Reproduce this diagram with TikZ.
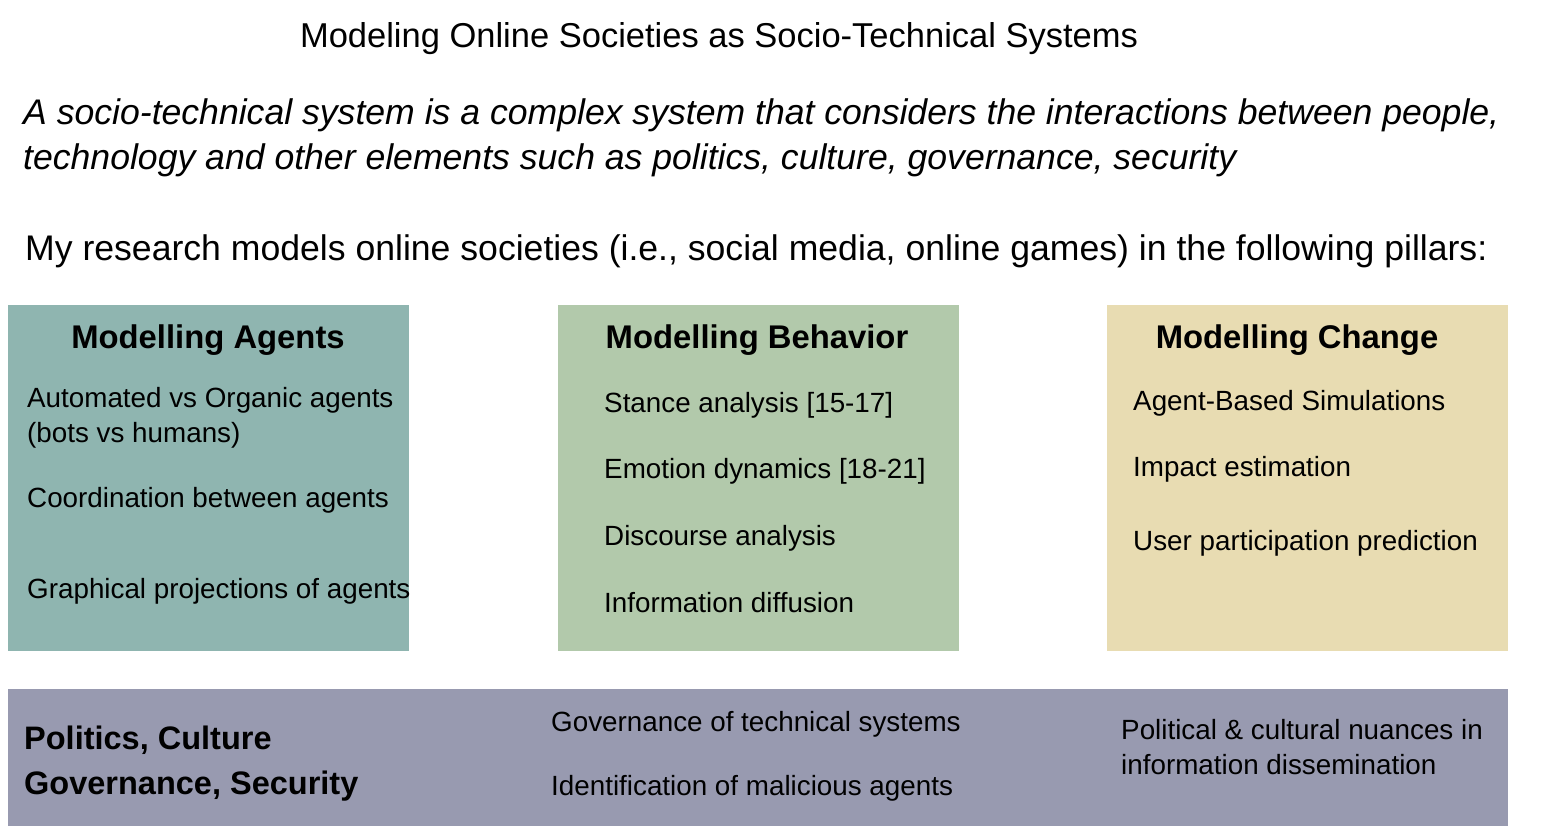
\documentclass[tikz,border=0pt]{standalone}
\usepackage{fontspec}
\setmainfont{Liberation Sans}
\usepackage{xcolor}
\usetikzlibrary{positioning}
\definecolor{agentfill}{RGB}{143,181,176}
\definecolor{behavfill}{RGB}{178,201,171}
\definecolor{changefill}{RGB}{232,220,178}
\definecolor{basefill}{RGB}{152,154,176}
\tikzset{
  pillar/.style={anchor=north west, inner sep=0pt, minimum width=401pt, minimum height=346pt},
  head/.style={anchor=base, inner sep=0pt, font=\fontsize{32.8}{38}\selectfont\bfseries},
  item/.style={anchor=base west, inner sep=0pt, font=\fontsize{27.8}{32}\selectfont},
  intro/.style={anchor=base west, inner sep=0pt, font=\fontsize{35.6}{40}\selectfont},
}

\begin{document}
\begin{tikzpicture}[x=1pt,y=-1pt]
\useasboundingbox (0,0) rectangle (1562,826);
% title and intro text
\node[anchor=base, inner sep=0pt, font=\fontsize{34.5}{40}\selectfont] (title) at (719,48) {Modeling Online Societies as Socio-Technical Systems};
\node[intro, font=\fontsize{35.6}{40}\selectfont\itshape] (def1) at (23,125) {A socio-technical system is a complex system that considers the interactions between people,};
\node[intro, font=\fontsize{35.6}{40}\selectfont\itshape] (def2) at (23,170) {technology and other elements such as politics, culture, governance, security};
\node[intro] (research) at (25,260) {My research models online societies (i.e., social media, online games) in the following pillars:};

% three pillars
\node[pillar, fill=agentfill] (agents) at (8,305) {};
\node[pillar, fill=behavfill] (behavior) at (558,305) {};
\node[pillar, fill=changefill] (change) at (1107,305) {};
\node[head] (agentshead) at (208,348) {Modelling Agents};
\node[head] (behavhead) at (757,348) {Modelling Behavior};
\node[head] (changehead) at (1297,348) {Modelling Change};
\foreach \y/\t in {407/Automated vs Organic agents, 442/(bots vs humans), 507/Coordination between agents, 598/Graphical projections of agents}
  \node[item] at (27,\y) {\t};
\foreach \y/\t in {412/Stance analysis [15-17], 478/Emotion dynamics [18-21], 545/Discourse analysis, 612/Information diffusion}
  \node[item] at (604,\y) {\t};
\foreach \y/\t in {410/Agent-Based Simulations, 476/Impact estimation, 550/User participation prediction}
  \node[item] at (1133,\y) {\t};

% bottom band
\node[anchor=north west, inner sep=0pt, minimum width=1500pt, minimum height=137pt, fill=basefill] (band) at (8,689) {};
\node[anchor=base west, inner sep=0pt, font=\fontsize{32.5}{38}\selectfont\bfseries] (pol1) at (24,749) {Politics, Culture};
\node[anchor=base west, inner sep=0pt, font=\fontsize{32.5}{38}\selectfont\bfseries] (pol2) at (24,794) {Governance, Security};
\node[item] (gov) at (551,731) {Governance of technical systems};
\node[item] (ident) at (551,795) {Identification of malicious agents};
\node[item] (nuance1) at (1121,739) {Political \& cultural nuances in};
\node[item] (nuance2) at (1121,774) {information dissemination};
\end{tikzpicture}
\end{document}
